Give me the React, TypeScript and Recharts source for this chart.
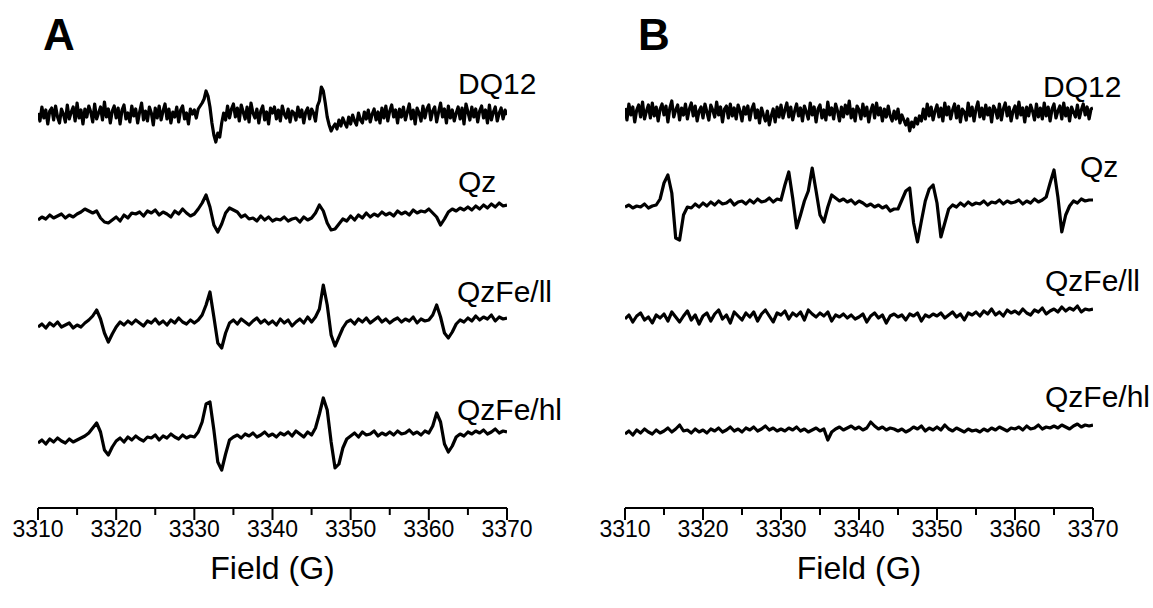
import { LineChart, Line, XAxis, YAxis } from 'recharts';

// magnetic field sampling (G)
const FIELD = [
  3310, 3310.5, 3311, 3311.5, 3312, 3312.5, 3313, 3313.5, 3314, 3314.5,
  3315, 3315.5, 3316, 3316.5, 3317, 3317.5, 3318, 3318.5, 3319, 3319.5,
  3320, 3320.5, 3321, 3321.5, 3322, 3322.5, 3323, 3323.5, 3324, 3324.5,
  3325, 3325.5, 3326, 3326.5, 3327, 3327.5, 3328, 3328.5, 3329, 3329.5,
  3330, 3330.5, 3331, 3331.5, 3332, 3332.5, 3333, 3333.5, 3334, 3334.5,
  3335, 3335.5, 3336, 3336.5, 3337, 3337.5, 3338, 3338.5, 3339, 3339.5,
  3340, 3340.5, 3341, 3341.5, 3342, 3342.5, 3343, 3343.5, 3344, 3344.5,
  3345, 3345.5, 3346, 3346.5, 3347, 3347.5, 3348, 3348.5, 3349, 3349.5,
  3350, 3350.5, 3351, 3351.5, 3352, 3352.5, 3353, 3353.5, 3354, 3354.5,
  3355, 3355.5, 3356, 3356.5, 3357, 3357.5, 3358, 3358.5, 3359, 3359.5,
  3360, 3360.5, 3361, 3361.5, 3362, 3362.5, 3363, 3363.5, 3364, 3364.5,
  3365, 3365.5, 3366, 3366.5, 3367, 3367.5, 3368, 3368.5, 3369, 3369.5,
  3370,
];

// finer sampling used by the noisy DQ12 traces
const FIELD_FINE = [
  3310, 3310.25, 3310.5, 3310.75, 3311, 3311.25, 3311.5, 3311.75,
  3312, 3312.25, 3312.5, 3312.75, 3313, 3313.25, 3313.5, 3313.75,
  3314, 3314.25, 3314.5, 3314.75, 3315, 3315.25, 3315.5, 3315.75,
  3316, 3316.25, 3316.5, 3316.75, 3317, 3317.25, 3317.5, 3317.75,
  3318, 3318.25, 3318.5, 3318.75, 3319, 3319.25, 3319.5, 3319.75,
  3320, 3320.25, 3320.5, 3320.75, 3321, 3321.25, 3321.5, 3321.75,
  3322, 3322.25, 3322.5, 3322.75, 3323, 3323.25, 3323.5, 3323.75,
  3324, 3324.25, 3324.5, 3324.75, 3325, 3325.25, 3325.5, 3325.75,
  3326, 3326.25, 3326.5, 3326.75, 3327, 3327.25, 3327.5, 3327.75,
  3328, 3328.25, 3328.5, 3328.75, 3329, 3329.25, 3329.5, 3329.75,
  3330, 3330.25, 3330.5, 3330.75, 3331, 3331.25, 3331.5, 3331.75,
  3332, 3332.25, 3332.5, 3332.75, 3333, 3333.25, 3333.5, 3333.75,
  3334, 3334.25, 3334.5, 3334.75, 3335, 3335.25, 3335.5, 3335.75,
  3336, 3336.25, 3336.5, 3336.75, 3337, 3337.25, 3337.5, 3337.75,
  3338, 3338.25, 3338.5, 3338.75, 3339, 3339.25, 3339.5, 3339.75,
  3340, 3340.25, 3340.5, 3340.75, 3341, 3341.25, 3341.5, 3341.75,
  3342, 3342.25, 3342.5, 3342.75, 3343, 3343.25, 3343.5, 3343.75,
  3344, 3344.25, 3344.5, 3344.75, 3345, 3345.25, 3345.5, 3345.75,
  3346, 3346.25, 3346.5, 3346.75, 3347, 3347.25, 3347.5, 3347.75,
  3348, 3348.25, 3348.5, 3348.75, 3349, 3349.25, 3349.5, 3349.75,
  3350, 3350.25, 3350.5, 3350.75, 3351, 3351.25, 3351.5, 3351.75,
  3352, 3352.25, 3352.5, 3352.75, 3353, 3353.25, 3353.5, 3353.75,
  3354, 3354.25, 3354.5, 3354.75, 3355, 3355.25, 3355.5, 3355.75,
  3356, 3356.25, 3356.5, 3356.75, 3357, 3357.25, 3357.5, 3357.75,
  3358, 3358.25, 3358.5, 3358.75, 3359, 3359.25, 3359.5, 3359.75,
  3360, 3360.25, 3360.5, 3360.75, 3361, 3361.25, 3361.5, 3361.75,
  3362, 3362.25, 3362.5, 3362.75, 3363, 3363.25, 3363.5, 3363.75,
  3364, 3364.25, 3364.5, 3364.75, 3365, 3365.25, 3365.5, 3365.75,
  3366, 3366.25, 3366.5, 3366.75, 3367, 3367.25, 3367.5, 3367.75,
  3368, 3368.25, 3368.5, 3368.75, 3369, 3369.25, 3369.5, 3369.75,
  3370,
];

const TICKS = [3310, 3315, 3320, 3325, 3330, 3335, 3340, 3345, 3350, 3355, 3360, 3365, 3370];

const SAMPLES = ['DQ12', 'Qz', 'QzFe/ll', 'QzFe/hl'];

// panel A spectra (arb. units)
const A_DQ12 = [
  2, -6, 8, -3, 5, -9, 4, 7,
  -5, 9, -2, -8, 6, 1, -7, 10,
  -4, 3, 8, -6, 12, -3, 5, -9,
  6, -2, 9, 3, -7, 11, -4, 2,
  8, -5, 13, -2, 6, -8, 4, 9,
  -3, 7, -9, 5, 10, -4, 2, -7,
  9, -1, 6, -8, 3, 12, -5, 4,
  -6, 8, 2, -10, 7, -3, 9, -5,
  4, 11, -4, 6, -8, 3, -2, 8,
  -7, 5, 9, -4, 2, -9, 6, 1,
  5, -3, 6, 9, 12, 16, 24, 19,
  8, -8, -20, -27, -18, -22, -8, 2,
  -5, 9, -3, 6, 11, -2, 7, -6,
  10, 3, -4, 8, -7, 12, 2, -3,
  6, -8, 4, 9, -5, 3, -9, 7,
  2, 8, -4, 5, -6, 9, 1, -3,
  6, -7, 4, 2, -5, 8, -2, 5,
  -8, 3, 7, -4, 6, 2, -6, 9,
  14, 28, 24, 12, -2, -10, -16, -12,
  -9, -14, -5, -11, -3, -8, -12, -2,
  -9, 0, -6, -10, 2, -5, -8, 3,
  -4, 5, -7, 1, 6, -5, 3, -8,
  7, -3, 9, -6, 4, 10, -2, 5,
  -8, 6, -2, 8, -5, 3, 11, -4,
  5, -9, 7, 2, -6, 9, -3, 6,
  10, -5, 4, 8, -7, 3, 12, -2,
  6, -8, 9, -3, 5, -6, 2, 8,
  -4, 7, -9, 11, 3, -5, 8, -2,
  6, -7, 4, 9, -3, 5, -8, 10,
  -5, 3, 8, -6, 2, 7, -4, 5,
  0,
];
const A_QZ = [
  -5, -2, -4, 0, -3, -1, 1, -3, 0, -2,
  1, 3, 6, 4, 2, 4, -3, -7, -8, -5,
  -2, -6, 0, -3, 2, 1, 3, -1, 4, 2,
  5, 0, 3, 1, -2, 4, 1, 6, 2, -1,
  1, 6, 12, 20, 8, -10, -17, -9, 2, 7,
  5, 3, -2, 0, -4, -3, -6, -1, -5, -2,
  -6, -4, -5, -2, -6, -4, -3, -7, -2, -5,
  -3, 2, 10, 4, -8, -15, -14, -9, -4, -6,
  -1, -5, 0, -3, 2, -2, 1, -1, 3, 0,
  2, -1, 4, 1, 3, 0, 5, 2, 4, 3,
  6, 2, -2, -10, -4, 3, 6, 4, 7, 5,
  8, 5, 9, 6, 10, 7, 11, 8, 12, 9,
  10,
];
const A_QZFE_LL = [
  -2, 1, -3, 2, -1, 3, -2, 0, 2, -3,
  0, -2, 2, 5, 9, 15, 6, -8, -17, -9,
  -2, 3, 0, 4, 1, 5, 2, -1, 4, 2,
  6, 1, 4, 0, 5, 2, 7, 3, 1, 5,
  2, 5, 10, 20, 33, 8, -18, -23, -8, 2,
  5, 1, 6, 3, 0, 4, 7, 2, 5, 1,
  4, 0, 6, 2, 5, -1, 3, 6, 2, 8,
  3, 8, 16, 40, 20, -10, -21, -12, -3, 3,
  5, 1, 6, 3, 7, 2, 5, 8, 3, 6,
  2, 5, 7, 3, 6, 4, 8, 2, 6, 4,
  5, 10, 20, 8, -8, -13, -7, 1, 5, 3,
  7, 4, 9, 5, 8, 6, 10, 4, 8, 6,
  7,
];
const A_QZFE_HL = [
  -3, 0, -4, 1, -2, 2, -1, -3, 1, -2,
  0, 2, 4, 7, 12, 17, 8, -10, -15, -7,
  -1, 2, -2, 3, 0, 4, 1, -1, 3, 2,
  5, 0, 4, 2, 6, 3, 1, 5, 2, 4,
  3, 8, 18, 36, 38, 10, -22, -30, -14, 0,
  3, 5, 2, 6, 4, 7, 3, 5, 8, 4,
  6, 3, 7, 5, 8, 4, 9, 6, 3, 8,
  5, 12, 26, 42, 30, -2, -28, -24, -8, 1,
  4, 7, 3, 8, 5, 6, 9, 4, 7, 5,
  8, 5, 9, 6, 7, 10, 6, 8, 5, 9,
  7, 14, 27, 18, -4, -12, -6, 3, 6, 4,
  8, 6, 9, 7, 10, 6, 8, 11, 7, 9,
  8,
];

// panel B spectra (arb. units)
const B_DQ12 = [
  5, -7, 9, -2, 6, -9, 3, 8,
  -4, 11, -6, 2, 8, -5, 10, -3,
  6, -8, 4, 9, -2, 7, -9, 5,
  12, -4, 3, 8, -7, 5, -2, 9,
  -6, 4, 10, -3, 7, -8, 2, 6,
  -5, 9, 1, -7, 8, 3, -4, 11,
  -2, 6, -9, 4, 7, -5, 9, -3,
  5, -6, 8, 2, -8, 6, -1, 7,
  -7, 4, 9, -5, 3, -10, 5, -2,
  -8, 2, -12, -3, 4, -9, 6, -4,
  8, -5, 3, 10, -4, 6, -7, 2,
  9, -3, 5, -8, 7, 1, -6, 10,
  -2, 6, -9, 4, 8, -5, 3, -7,
  11, -2, 5, -6, 9, 2, -8, 6,
  -4, 8, -1, 12, -5, 4, -8, 7,
  3, -6, 9, -3, 6, -9, 2, 8,
  -5, 10, -2, 5, -8, 4, -4, 7,
  -3, -8, 2, -6, 4, -10, -2, -7,
  -12, -6, -18, -9, -14, -5, -11, -3,
  -8, 4, -6, 9, -3, 6, -7, 2,
  8, -4, 5, -8, 10, -2, 6, -6,
  3, 9, -5, 7, -9, 4, 1, -7,
  10, -3, 6, -8, 4, 11, -4, 5,
  -6, 8, -2, 5, -9, 7, 3, -5,
  9, -7, 4, 10, -3, 6, -8, 2,
  7, -5, 11, -2, 5, -9, 6, -3,
  8, 2, -7, 9, -4, 5, -6, 10,
  -3, 6, -8, 4, 9, -5, 2, 7,
  -6, 10, -3, 5, -8, 6, 1, -4,
  8, -5, 3, 9, -2, 6, -6, 4,
  5,
];
const B_QZ = [
  -4, -2, -5, -3, -4, -1, -5, -3, -2, 4,
  20, 28, 10, -35, -37, -12, -4, -5, -1, -4,
  0, -3, 1, -2, 2, -1, 0, 3, -2, 1,
  2, -1, 3, 0, 4, 1, 2, 5, 1, 4,
  3, 18, 31, 5, -25, -12, 2, 12, 35, 12,
  -12, -19, -4, 8, 5, 2, 4, 1, 3, -1,
  2, 0, -3, -1, -4, -2, -5, -3, -8, -6,
  -6, 3, 12, 15, -20, -39, -18, 2, 14, 18,
  0, -34, -20, -6, -2, -4, 0, -3, 1, -2,
  0, -1, 2, -2, 1, 0, 3, -1, 2, 0,
  1, 3, -1, 2, 0, 4, 1, 3, 6, 20,
  33, 6, -29, -12, -3, 2, 0, 4, 2, 3,
  3,
];
const B_QZFE_LL = [
  -1, 3, -4, 2, 5, -2, 1, -5, 3, 0,
  4, -3, 6, 1, -4, 2, 7, -2, 3, -6,
  2, 5, -3, 4, 8, -1, 3, -5, 6, 2,
  -2, 5, 1, 6, -3, 4, 8, 2, -4, 5,
  3, 7, -1, 5, 2, 6, -2, 8, 4, 1,
  5, 2, 6, -3, 3, 1, 4, 0, 3, -1,
  1, 4, -4, 2, 5, 0, 3, -5, 2, 4,
  1, 3, -2, 4, 2, 5, -3, 3, 1, 4,
  2, 5, 0, 3, 6, 1, 4, -2, 5, 3,
  6, 2, 7, 4, 9, 3, 6, 2, 8, 5,
  7, 4, 9, 5, 3, 8, 6, 10, 4, 7,
  9, 6, 11, 7, 10, 8, 12, 6, 9, 8,
  9,
];
const B_QZFE_HL = [
  -2, 1, -3, 2, -1, 3, 0, -2, 2, -1,
  1, 4, 0, 3, 7, 1, 2, -1, 3, 0,
  2, -1, 3, 1, 4, 0, 2, 5, 1, 3,
  0, 4, 2, 5, 1, 3, 6, 2, 4, 1,
  3, 1, 4, 2, 5, 1, 3, 0, 2, 4,
  1, 3, -8, 0, 3, 5, 2, 4, 6, 3,
  5, 2, 4, 10, 6, 3, 5, 2, 4, 3,
  1, 3, 0, 2, 5, 3, 6, 1, 4, 2,
  5, 2, 7, 3, 1, 4, 2, 0, 3, 1,
  2, 0, 3, 1, 4, 2, 5, 3, 1, 4,
  3, 5, 2, 6, 3, 4, 7, 3, 5, 4,
  6, 4, 7, 5, 3, 6, 8, 5, 7, 6,
  7,
];

// vertical stacking of the traces, top to bottom
const STACK_A = [393, 293, 183, 68];
const STACK_B = [395, 305, 190, 76];

const FONT = '"Liberation Sans", Arial, sans-serif';

function buildRows(traces: number[][], stack: number[]) {
  return FIELD.map((field, i) => {
    const row: Record<string, number> = { field };
    traces.forEach((t, k) => {
      row['s' + (k + 1)] = t[i] + stack[k + 1];
    });
    return row;
  });
}

function buildFine(trace: number[], shift: number) {
  return FIELD_FINE.map((field, i) => ({ field, s0: trace[i] + shift }));
}

const rowsA = buildRows([A_QZ, A_QZFE_LL, A_QZFE_HL], STACK_A);
const rowsB = buildRows([B_QZ, B_QZFE_LL, B_QZFE_HL], STACK_B);
const fineA = buildFine(A_DQ12, STACK_A[0]);
const fineB = buildFine(B_DQ12, STACK_B[0]);

const FieldTick = (props: any) => {
  const { x, y, payload } = props;
  const major = payload.value % 10 === 0;
  return (
    <g>
      <line x1={x} x2={x} y1={y} y2={y + (major ? 12 : 7)} stroke="#000" strokeWidth={2} />
      {major && (
        <text x={x} y={y + 29} textAnchor="middle" fontSize={23} fill="#000" fontFamily={FONT}>
          {payload.value}
        </text>
      )}
    </g>
  );
};

function Panel({ rows, fine, width, left, right }: { rows: any[]; fine: any[]; width: number; left: number; right: number }) {
  return (
    <LineChart width={width} height={608} data={rows} margin={{ top: 0, right, left, bottom: 0 }}>
      <XAxis
        dataKey="field"
        type="number"
        domain={[3310, 3370]}
        ticks={TICKS}
        interval={0}
        tick={FieldTick}
        tickLine={false}
        tickSize={0}
        tickMargin={0}
        axisLine={{ stroke: '#000', strokeWidth: 2 }}
        height={100}
        allowDataOverflow
        label={{ value: 'Field (G)', position: 'insideBottom', offset: 29, fontSize: 32, fill: '#000', fontFamily: FONT }}
      />
      <YAxis hide domain={[0, 508]} allowDataOverflow />
      <Line
        name={SAMPLES[0]}
        data={fine}
        dataKey="s0"
        type="linear"
        stroke="#000"
        strokeWidth={3.2}
        strokeLinejoin="round"
        dot={false}
        isAnimationActive={false}
      />
      {SAMPLES.slice(1).map((name, k) => (
        <Line
          key={name}
          name={name}
          dataKey={'s' + (k + 1)}
          type="linear"
          stroke="#000"
          strokeWidth={3.2}
          strokeLinejoin="round"
          dot={false}
          isAnimationActive={false}
        />
      ))}
    </LineChart>
  );
}

export default function App() {
  return (
    <div style={{ position: 'absolute', left: 0, top: 0, width: 1153, height: 608, background: '#fff', fontFamily: FONT }}>
      <div style={{ position: 'absolute', left: 0, top: 0 }}>
        <Panel rows={rowsA} fine={fineA} width={560} left={38} right={53} />
      </div>
      <div style={{ position: 'absolute', left: 560, top: 0 }}>
        <Panel rows={rowsB} fine={fineB} width={593} left={65} right={60} />
      </div>
      <svg width={1153} height={608} style={{ position: 'absolute', left: 0, top: 0, pointerEvents: 'none' }}>
        <g fontFamily={FONT} fill="#000">
          <text x={43} y={50} fontSize={44} fontWeight="bold">A</text>
          <text x={638} y={50} fontSize={44} fontWeight="bold">B</text>
          <g fontSize={30}>
            <text x={458} y={94}>{SAMPLES[0]}</text>
            <text x={458} y={192}>{SAMPLES[1]}</text>
            <text x={457} y={302}>{SAMPLES[2]}</text>
            <text x={457} y={420}>{SAMPLES[3]}</text>
            <text x={1043} y={97}>{SAMPLES[0]}</text>
            <text x={1080} y={177}>{SAMPLES[1]}</text>
            <text x={1045} y={291}>{SAMPLES[2]}</text>
            <text x={1045} y={407}>{SAMPLES[3]}</text>
          </g>
        </g>
      </svg>
    </div>
  );
}
